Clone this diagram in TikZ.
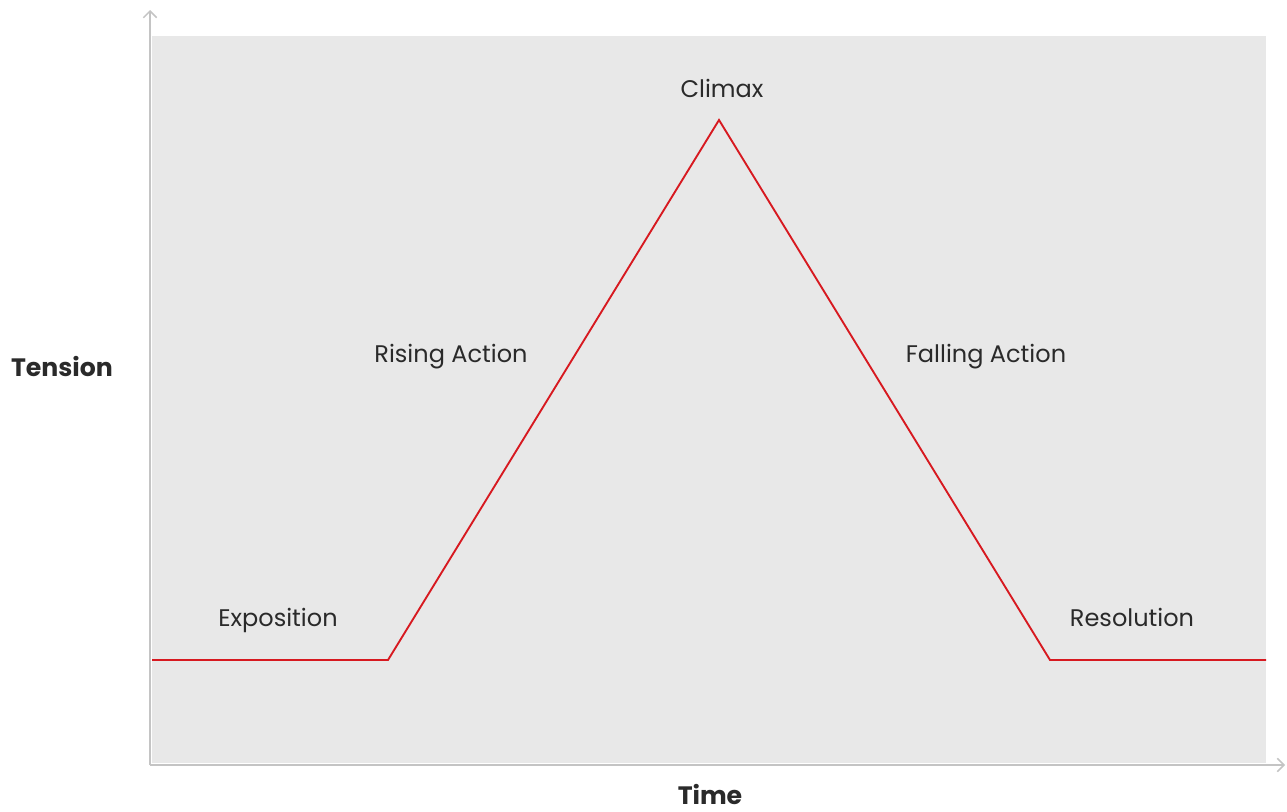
\documentclass[tikz,border=0pt]{standalone}
\usepackage{fontspec}
\setmainfont{Poppins}
\usetikzlibrary{calc}
\usetikzlibrary{positioning}
\usetikzlibrary{arrows.meta}
\definecolor{plotbg}{HTML}{E8E8E8}
\definecolor{axisgray}{HTML}{C4C4C4}
\definecolor{arcred}{HTML}{D71920}
\definecolor{textgray}{HTML}{2A2A2A}
\tikzset{
  stage/.style={text=textgray, inner sep=0pt, anchor=base, font=\fontsize{20.5}{24}\selectfont},
  axislabel/.style={text=textgray, inner sep=0pt, anchor=base, font=\fontsize{21.5}{25}\selectfont\bfseries},
}

\begin{document}
\begin{tikzpicture}[x=0.03cm, y=-0.03cm]
      \useasboundingbox (0, 0) rectangle (1287, 811);
      \fill[plotbg] (152, 36) rectangle (1266, 763);

      \coordinate (O) at (150, 765);
      \coordinate (Ytop) at (150, 10);
      \coordinate (Xend) at (1285, 765);

      \draw[axisgray, line width=1.3pt, -{Straight Barb[length=2mm, width=4mm, line width=1.3pt]}] (O) -- (Ytop);
      \draw[axisgray, line width=1.3pt, -{Straight Barb[length=2mm, width=4mm, line width=1.3pt]}] (O) -- (Xend);

      \coordinate (S1) at (152, 660);
      \coordinate (S2) at (388, 660);
      \coordinate (S3) at (719, 120);
      \coordinate (S4) at (1050, 660);
      \coordinate (S5) at (1266, 660);

      \draw[arcred, line width=1.6pt, line join=miter] (S1) -- (S2) -- (S3) -- (S4) -- (S5);

      \node[stage] (climax) at (722, 97) {Climax};
      \node[stage] (rising) at (451, 362) {Rising Action};
      \node[stage] (falling) at (986, 362) {Falling Action};
      \node[stage] (expo) at (278, 626) {Exposition};
      \node[stage] (resol) at (1132, 626) {Resolution};

      \node[axislabel] (tension) at (62, 376) {Tension};
      \node[axislabel] (time) at (710, 804) {Time};
    \end{tikzpicture}
\end{document}
